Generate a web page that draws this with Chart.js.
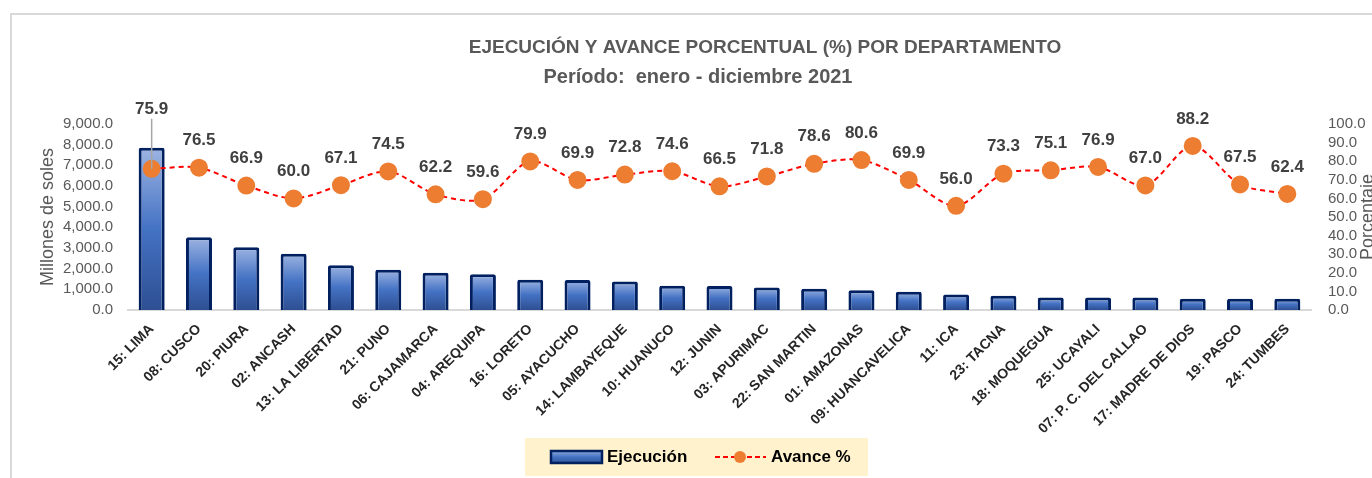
<!DOCTYPE html>
<html>
<head>
<meta charset="utf-8">
<script src="https://cdn.jsdelivr.net/npm/chart.js@4"></script>
<style>
  html, body { margin: 0; padding: 0; background: #fff; overflow: hidden; }
  #wrap { width: 1372px; height: 478px; position: relative; }
</style>
</head>
<body>
<div id="wrap"><canvas id="chart" width="1372" height="478"></canvas></div>
<script>
// Data
const departamentos = ["15: LIMA", "08: CUSCO", "20: PIURA", "02: ANCASH", "13: LA LIBERTAD", "21: PUNO",
  "06: CAJAMARCA", "04: AREQUIPA", "16: LORETO", "05: AYACUCHO", "14: LAMBAYEQUE", "10: HUANUCO",
  "12: JUNIN", "03: APURIMAC", "22: SAN MARTIN", "01: AMAZONAS", "09: HUANCAVELICA", "11: ICA",
  "23: TACNA", "18: MOQUEGUA", "25: UCAYALI", "07: P. C. DEL CALLAO", "17: MADRE DE DIOS", "19: PASCO", "24: TUMBES"];
const ejecucion = [7850, 3520, 3040, 2720, 2170, 1950, 1800, 1730, 1460, 1450, 1380, 1170,
  1160, 1090, 1030, 960, 880, 750, 690, 610, 610, 600, 540, 540, 540];
const avance = [75.9, 76.5, 66.9, 60.0, 67.1, 74.5, 62.2, 59.6, 79.9, 69.9, 72.8, 74.6,
  66.5, 71.8, 78.6, 80.6, 69.9, 56.0, 73.3, 75.1, 76.9, 67.0, 88.2, 67.5, 62.4];
const leftTicks = [0, 1000, 2000, 3000, 4000, 5000, 6000, 7000, 8000, 9000];
const rightTicks = [0, 10, 20, 30, 40, 50, 60, 70, 80, 90, 100];

const fmtMiles = v => v.toLocaleString("en-US", { minimumFractionDigits: 1, maximumFractionDigits: 1 });

// Frame, titles, legend, data labels
const decor = {
  id: "decor",
  beforeDraw(chart) {
    const c = chart.ctx;
    c.save();
    c.fillStyle = "#fff";
    c.fillRect(0, 0, chart.width, chart.height);
    c.strokeStyle = "#D9D9D9";
    c.lineWidth = 2;
    c.strokeRect(11, 14, chart.width + 20, chart.height + 20);
    c.restore();
  },
  afterDraw(chart) {
    const c = chart.ctx;
    c.save();
    c.fillStyle = "#595959";
    c.textBaseline = "middle";
    c.textAlign = "center";
    c.font = "bold 19px 'Liberation Sans'";
    c.fillText("EJECUCIÓN Y AVANCE PORCENTUAL (%) POR DEPARTAMENTO", 765, 48);
    c.font = "bold 20px 'Liberation Sans'";
    c.fillText("Período:  enero - diciembre 2021", 698, 77);

    // axis titles
    c.font = "18px 'Liberation Sans'";
    c.translate(48, 217);
    c.rotate(-Math.PI / 2);
    c.fillText("Millones de soles", 0, 0);
    c.setTransform(1, 0, 0, 1, 0, 0);
    c.translate(1368, 217);
    c.rotate(-Math.PI / 2);
    c.fillText("Porcentaje", 0, 0);
    c.setTransform(1, 0, 0, 1, 0, 0);

    // data labels for the line
    const meta = chart.getDatasetMeta(1);
    c.font = "bold 17px 'Liberation Sans'";
    c.fillStyle = "#404040";
    meta.data.forEach((pt, i) => {
      let y = pt.y - 27;
      if (i === 0) {
        y = pt.y - 60;
        c.strokeStyle = "#A6A6A6";
        c.lineWidth = 1.5;
        c.beginPath();
        c.moveTo(pt.x, y + 10);
        c.lineTo(pt.x, pt.y);
        c.stroke();
      }
      c.fillText(avance[i].toFixed(1), pt.x, y);
    });

    // legend
    c.fillStyle = "#FFF2CC";
    c.fillRect(525, 438, 343, 38);
    const g = c.createLinearGradient(0, 451, 0, 463);
    g.addColorStop(0, "#8EA9DB");
    g.addColorStop(0.5, "#4472C4");
    g.addColorStop(1, "#2F5597");
    c.fillStyle = g;
    c.fillRect(551, 451, 51, 12);
    c.strokeStyle = "#002060";
    c.lineWidth = 2.5;
    c.strokeRect(551, 451, 51, 12);
    c.strokeStyle = "#FF0000";
    c.lineWidth = 2;
    c.setLineDash([5, 3]);
    c.beginPath();
    c.moveTo(715, 457);
    c.lineTo(766, 457);
    c.stroke();
    c.setLineDash([]);
    c.fillStyle = "#ED7D31";
    c.beginPath();
    c.arc(740, 457, 6, 0, Math.PI * 2);
    c.fill();
    c.fillStyle = "#000";
    c.textAlign = "left";
    c.font = "bold 17px 'Liberation Sans'";
    c.fillText("Ejecución", 607, 457);
    c.fillText("Avance %", 771, 457);
    c.restore();
  }
};

function barGradient(ctx) {
  const chart = ctx.chart;
  if (!chart.chartArea || ctx.raw === undefined) return "#4472C4";
  const y = chart.scales.y;
  const top = y.getPixelForValue(ctx.raw);
  const bot = y.getPixelForValue(0);
  const g = chart.ctx.createLinearGradient(0, top, 0, bot);
  g.addColorStop(0, "#9DB4E2");
  g.addColorStop(0.5, "#4472C4");
  g.addColorStop(1, "#2E4F92");
  return g;
}

new Chart(document.getElementById("chart"), {
  data: {
    labels: departamentos,
    datasets: [
      {
        type: "bar",
        label: "Ejecución",
        data: ejecucion,
        yAxisID: "y",
        backgroundColor: barGradient,
        borderColor: "#002060",
        borderWidth: 3,
        borderRadius: 2,
        borderSkipped: "bottom",
        barPercentage: 0.55,
        categoryPercentage: 1,
        order: 2
      },
      {
        type: "line",
        label: "Avance %",
        data: avance,
        yAxisID: "y1",
        borderColor: "#FF0000",
        borderWidth: 2,
        borderDash: [5, 4],
        pointRadius: 8,
        pointBackgroundColor: "#ED7D31",
        pointBorderColor: "#ED7D31",
        tension: 0.3,
        order: 1
      }
    ]
  },
  options: {
    responsive: false,
    animation: false,
    layout: { padding: { top: 124, bottom: 0, left: 0, right: 0 } },
    plugins: { legend: { display: false }, title: { display: false }, tooltip: { enabled: false } },
    scales: {
      x: {
        grid: { display: false },
        border: { color: "#D9D9D9", width: 2 },
        ticks: {
          autoSkip: false, maxRotation: 45, minRotation: 45,
          color: "#262626", font: { family: "'Liberation Sans'", size: 14, weight: "bold" }
        },
        afterFit(s) { s.height = 168; }
      },
      y: {
        position: "left",
        min: 0, max: 9000,
        afterBuildTicks(s) { s.ticks = leftTicks.map(v => ({ value: v })); },
        grid: { display: false },
        border: { display: false },
        ticks: { autoSkip: false, color: "#595959", padding: 7, font: { family: "'Liberation Sans'", size: 15 }, callback: v => fmtMiles(v) },
        afterFit(s) { s.width = 128; }
      },
      y1: {
        position: "right",
        min: 0, max: 100,
        afterBuildTicks(s) { s.ticks = rightTicks.map(v => ({ value: v })); },
        grid: { display: false },
        border: { display: false },
        ticks: { autoSkip: false, color: "#595959", padding: 9, font: { family: "'Liberation Sans'", size: 15 }, callback: v => v.toFixed(1) },
        afterFit(s) { s.width = 61; }
      }
    }
  },
  plugins: [decor]
});
</script>
</body>
</html>
